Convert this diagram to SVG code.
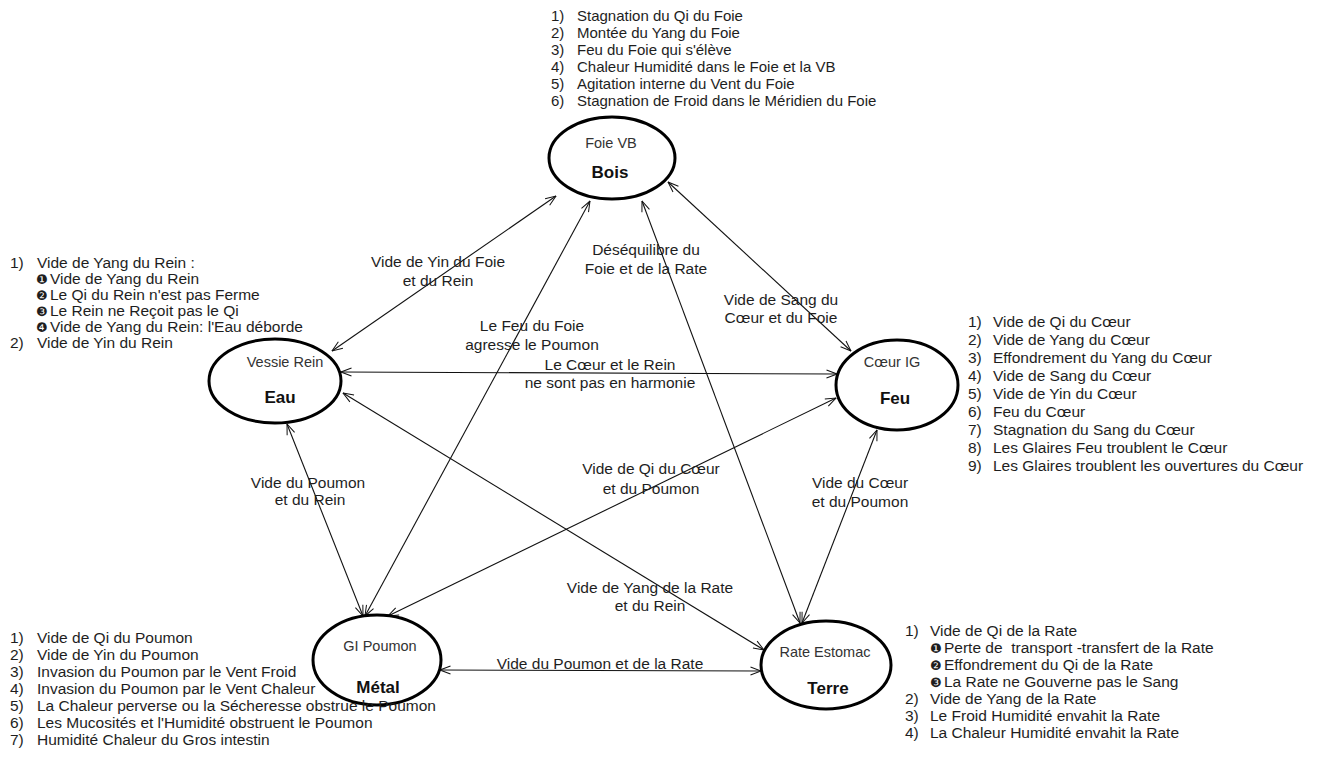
<svg xmlns="http://www.w3.org/2000/svg" width="1321" height="760" viewBox="0 0 1321 760">
<defs>
<marker id="ah" viewBox="0 0 12 10" refX="11.5" refY="5" markerWidth="12" markerHeight="10" markerUnits="userSpaceOnUse" orient="auto-start-reverse">
<path d="M1,1 L11.5,5 L1,9" fill="none" stroke="#111" stroke-width="1"/>
</marker>
<style>
text{font-family:"Liberation Sans",Arial,sans-serif;fill:#1e1e1e}
.l{font-size:15.5px}
.t{font-size:15px}
.e{font-size:15.5px;text-anchor:middle}
.n{font-size:14.5px;text-anchor:middle;fill:#333}
.b{font-size:17px;font-weight:bold;text-anchor:middle;fill:#111}
.bu{font-family:"DejaVu Sans",sans-serif;font-size:13px}
ellipse{fill:#fff;stroke:#000;stroke-width:3}
.c line{stroke:#111;stroke-width:1.1;marker-start:url(#ah);marker-end:url(#ah)}
</style>
</defs>
<rect width="1321" height="760" fill="#fff"/>

<g class="c" id="connectors">
<line x1="556" y1="196" x2="332" y2="351"/>
<line x1="590" y1="201" x2="365" y2="616"/>
<line x1="642" y1="201" x2="800" y2="623"/>
<line x1="668" y1="182" x2="851" y2="351"/>
<line x1="341" y1="372" x2="837" y2="374"/>
<line x1="287" y1="424" x2="363" y2="616"/>
<line x1="343" y1="393" x2="764" y2="650"/>
<line x1="836" y1="398" x2="388" y2="616"/>
<line x1="877" y1="430" x2="802" y2="623"/>
<line x1="440" y1="670" x2="761" y2="671"/>
</g>

<g id="edge-labels">
<text class="e" x="438" y="267">Vide de Yin du Foie</text>
<text class="e" x="438" y="286">et du Rein</text>
<text class="e" x="646" y="255">Déséquilibre du</text>
<text class="e" x="646" y="274">Foie et de la Rate</text>
<text class="e" x="781" y="305">Vide de Sang du</text>
<text class="e" x="781" y="323">Cœur et du Foie</text>
<text class="e" x="532" y="331">Le Feu du Foie</text>
<text class="e" x="532" y="350">agresse le Poumon</text>
<text class="e" x="610" y="370">Le Cœur et le Rein</text>
<text class="e" x="610" y="388">ne sont pas en harmonie</text>
<text class="e" x="308" y="488">Vide du Poumon</text>
<text class="e" x="310" y="505">et du Rein</text>
<text class="e" x="651" y="474">Vide de Qi du Cœur</text>
<text class="e" x="651" y="494">et du Poumon</text>
<text class="e" x="860" y="488">Vide du Cœur</text>
<text class="e" x="860" y="507">et du Poumon</text>
<text class="e" x="650" y="593">Vide de Yang de la Rate</text>
<text class="e" x="650" y="611">et du Rein</text>
<text class="e" x="600" y="669">Vide du Poumon et de la Rate</text>
</g>

<g id="node-bois">
<ellipse cx="612" cy="158" rx="63" ry="41"/>
<text class="n" x="611" y="148">Foie VB</text>
<text class="b" x="610" y="178">Bois</text>
</g>
<g id="node-eau">
<ellipse cx="275" cy="381" rx="66" ry="42"/>
<text class="n" x="285" y="367">Vessie Rein</text>
<text class="b" x="280" y="403">Eau</text>
</g>
<g id="node-feu">
<ellipse cx="897" cy="385" rx="61" ry="45"/>
<text class="n" x="892" y="367">Cœur IG</text>
<text class="b" x="895" y="404">Feu</text>
</g>
<g id="node-metal">
<ellipse cx="377" cy="660" rx="64" ry="45"/>
<text class="n" x="380" y="651">GI Poumon</text>
<text class="b" x="378" y="693">Métal</text>
</g>
<g id="node-terre">
<ellipse cx="826" cy="665" rx="65" ry="44"/>
<text class="n" x="825" y="657">Rate Estomac</text>
<text class="b" x="828" y="694">Terre</text>
</g>

<g id="list-bois" class="t">
<text x="551" y="21">1)</text><text x="577" y="21">Stagnation du Qi du Foie</text>
<text x="551" y="38">2)</text><text x="577" y="38">Montée du Yang du Foie</text>
<text x="551" y="55">3)</text><text x="577" y="55">Feu du Foie qui s'élève</text>
<text x="551" y="72">4)</text><text x="577" y="72">Chaleur Humidité dans le Foie et la VB</text>
<text x="551" y="89">5)</text><text x="577" y="89">Agitation interne du Vent du Foie</text>
<text x="551" y="106">6)</text><text x="577" y="106">Stagnation de Froid dans le Méridien du Foie</text>
</g>

<g id="list-eau" class="l">
<text x="10" y="268">1)</text><text x="37" y="268">Vide de Yang du Rein :</text>
<text class="bu" x="36" y="284">❶</text><text x="50" y="284">Vide de Yang du Rein</text>
<text class="bu" x="36" y="300">❷</text><text x="50" y="300">Le Qi du Rein n'est pas Ferme</text>
<text class="bu" x="36" y="316">❸</text><text x="50" y="316">Le Rein ne Reçoit pas le Qi</text>
<text class="bu" x="36" y="332">❹</text><text x="50" y="332">Vide de Yang du Rein: l'Eau déborde</text>
<text x="10" y="348">2)</text><text x="37" y="348">Vide de Yin du Rein</text>
</g>

<g id="list-feu" class="l">
<text x="968" y="327">1)</text><text x="993" y="327">Vide de Qi du Cœur</text>
<text x="968" y="345">2)</text><text x="993" y="345">Vide de Yang du Cœur</text>
<text x="968" y="363">3)</text><text x="993" y="363">Effondrement du Yang du Cœur</text>
<text x="968" y="381">4)</text><text x="993" y="381">Vide de Sang du Cœur</text>
<text x="968" y="399">5)</text><text x="993" y="399">Vide de Yin du Cœur</text>
<text x="968" y="417">6)</text><text x="993" y="417">Feu du Cœur</text>
<text x="968" y="435">7)</text><text x="993" y="435">Stagnation du Sang du Cœur</text>
<text x="968" y="453">8)</text><text x="993" y="453">Les Glaires Feu troublent le Cœur</text>
<text x="968" y="471">9)</text><text x="993" y="471">Les Glaires troublent les ouvertures du Cœur</text>
</g>

<g id="list-metal" class="l">
<text x="10" y="643">1)</text><text x="37" y="643">Vide de Qi du Poumon</text>
<text x="10" y="660">2)</text><text x="37" y="660">Vide de Yin du Poumon</text>
<text x="10" y="677">3)</text><text x="37" y="677">Invasion du Poumon par le Vent Froid</text>
<text x="10" y="694">4)</text><text x="37" y="694">Invasion du Poumon par le Vent Chaleur</text>
<text x="10" y="711">5)</text><text x="37" y="711">La Chaleur perverse ou la Sécheresse obstrue le Poumon</text>
<text x="10" y="728">6)</text><text x="37" y="728">Les Mucosités et l'Humidité obstruent le Poumon</text>
<text x="10" y="745">7)</text><text x="37" y="745">Humidité Chaleur du Gros intestin</text>
</g>

<g id="list-terre" class="l">
<text x="905" y="636">1)</text><text x="930" y="636">Vide de Qi de la Rate</text>
<text class="bu" x="930" y="653">❶</text><text x="944" y="653" xml:space="preserve">Perte de  transport -transfert de la Rate</text>
<text class="bu" x="930" y="670">❷</text><text x="944" y="670">Effondrement du Qi de la Rate</text>
<text class="bu" x="930" y="687">❸</text><text x="944" y="687">La Rate ne Gouverne pas le Sang</text>
<text x="905" y="704">2)</text><text x="930" y="704">Vide de Yang de la Rate</text>
<text x="905" y="721">3)</text><text x="930" y="721">Le Froid Humidité envahit la Rate</text>
<text x="905" y="738">4)</text><text x="930" y="738">La Chaleur Humidité envahit la Rate</text>
</g>
</svg>
